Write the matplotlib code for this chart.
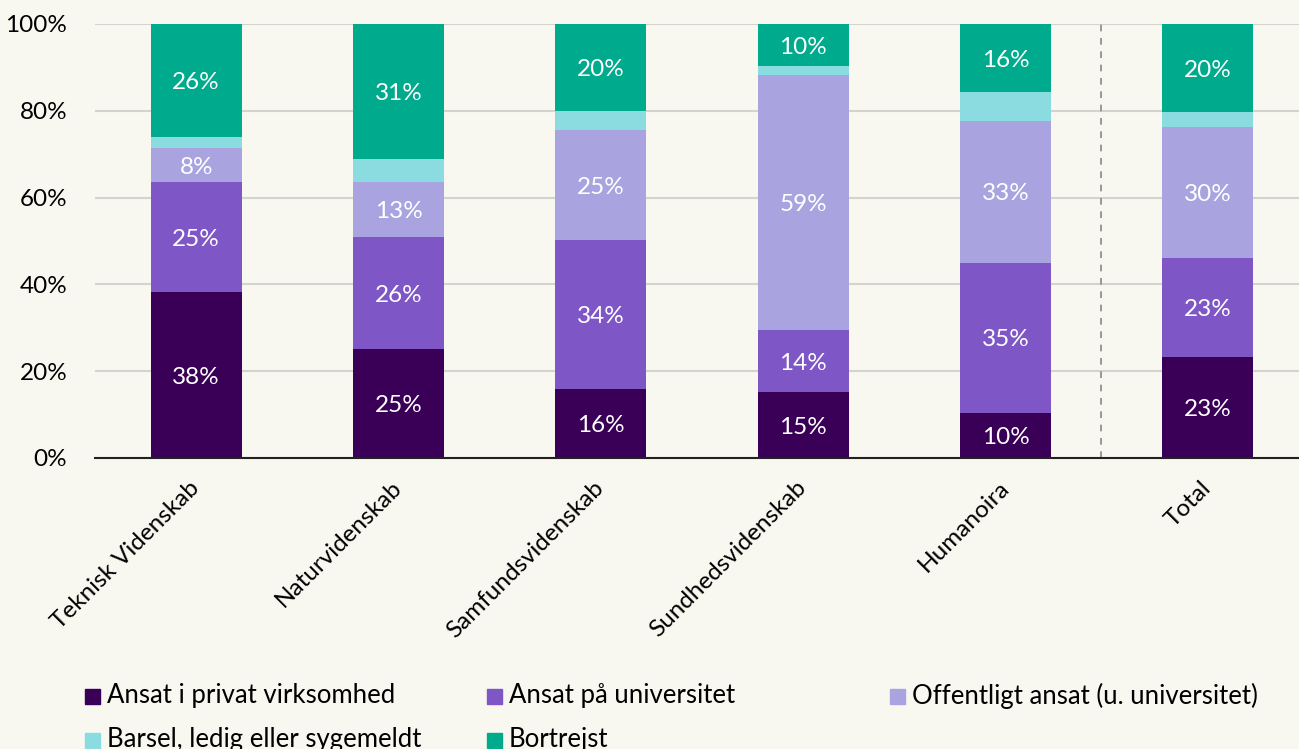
import numpy as np
import matplotlib
matplotlib.use('Agg')
import matplotlib.pyplot as plt
from matplotlib.patches import Rectangle
from matplotlib.transforms import offset_copy

plt.rcParams['font.family'] = ['Lato', 'DejaVu Sans']

categories = ["Teknisk Videnskab", "Naturvidenskab", "Samfundsvidenskab",
              "Sundhedsvidenskab", "Humanoira", "Total"]

series_names = ["Ansat i privat virksomhed", "Ansat på universitet",
                "Offentligt ansat (u. universitet)", "Barsel, ledig eller sygemeldt",
                "Bortrejst"]

privat     = [38.2, 25.1, 15.9, 15.2, 10.4, 23.3]
universitet = [25.4, 25.8, 34.3, 14.3, 34.6, 22.8]
offentligt = [7.8, 12.6, 25.4, 58.7, 32.7, 30.2]
barsel     = [2.6, 5.3, 4.4, 2.1, 6.6, 3.4]
bortrejst  = [26.0, 31.2, 20.0, 9.7, 15.7, 20.3]

colors = ["#3a0057", "#7e56c6", "#a9a4df", "#8adce0", "#00aa8c"]
show_label = [True, True, True, False, True]

BG = "#f8f8f1"
FS = 17.5
FS_LEG = 18.5

fig = plt.figure(figsize=(12.99, 7.49), dpi=100, facecolor=BG)
ax = fig.add_axes([95 / 1299, 1 - 458 / 749, (1299 - 95) / 1299, 434 / 749])
ax.set_facecolor(BG)

# nudge value labels down a little to sit like the original
lab_trans = offset_copy(ax.transData, fig=fig, x=0, y=-1.5, units='points')

x = np.arange(len(categories))
data = [privat, universitet, offentligt, barsel, bortrejst]
bottom = np.zeros(len(categories))
for vals, col, name, lab in zip(data, colors, series_names, show_label):
    vals = np.array(vals)
    ax.bar(x, vals, 0.45, bottom=bottom, color=col, label=name, zorder=3)
    if lab:
        for xi, b, v in zip(x, bottom, vals):
            ax.text(xi, b + v / 2, f"{v:.0f}%", ha='center', va='center',
                    color='white', fontsize=FS, zorder=4, transform=lab_trans)
    bottom += vals

ax.set_ylim(0, 100)
ax.set_xlim(-0.5, 5.45)
ax.set_yticks(range(0, 101, 20))
ax.set_yticklabels([f"{t}%" for t in range(0, 101, 20)], fontsize=FS)
ax.yaxis.grid(True, color='#d3d3cf', linewidth=1.5, zorder=0)
ax.tick_params(axis='y', length=0, pad=20)
ax.tick_params(axis='x', length=0, pad=19)
ax.set_xticks(x)
ax.set_xticklabels(categories, fontsize=FS, rotation=45, ha='right',
                   va='center', rotation_mode='anchor')

for s in ['top', 'right', 'left']:
    ax.spines[s].set_visible(False)
ax.spines['bottom'].set_color('#222222')
ax.spines['bottom'].set_linewidth(1.5)
ax.spines['bottom'].set_zorder(5)

ax.axvline(4.47, color='#888888', linestyle=(0, (4, 4)), linewidth=1.2, zorder=2)

# legend placed by hand to keep fixed column positions
leg_x = [85, 487, 890]
leg_y = [696, 740]
for i, (name, col) in enumerate(zip(series_names, colors)):
    px = leg_x[i % 3]
    py = leg_y[i // 3]
    fig.add_artist(Rectangle((px / 1299, 1 - (py + 8) / 749), 15 / 1299, 15 / 749,
                             transform=fig.transFigure, color=col))
    fig.text((px + 22) / 1299, 1 - py / 749, name, fontsize=FS_LEG, ha='left',
             va='center', color='black')

fig.savefig('out.png', dpi=100, facecolor=BG)
